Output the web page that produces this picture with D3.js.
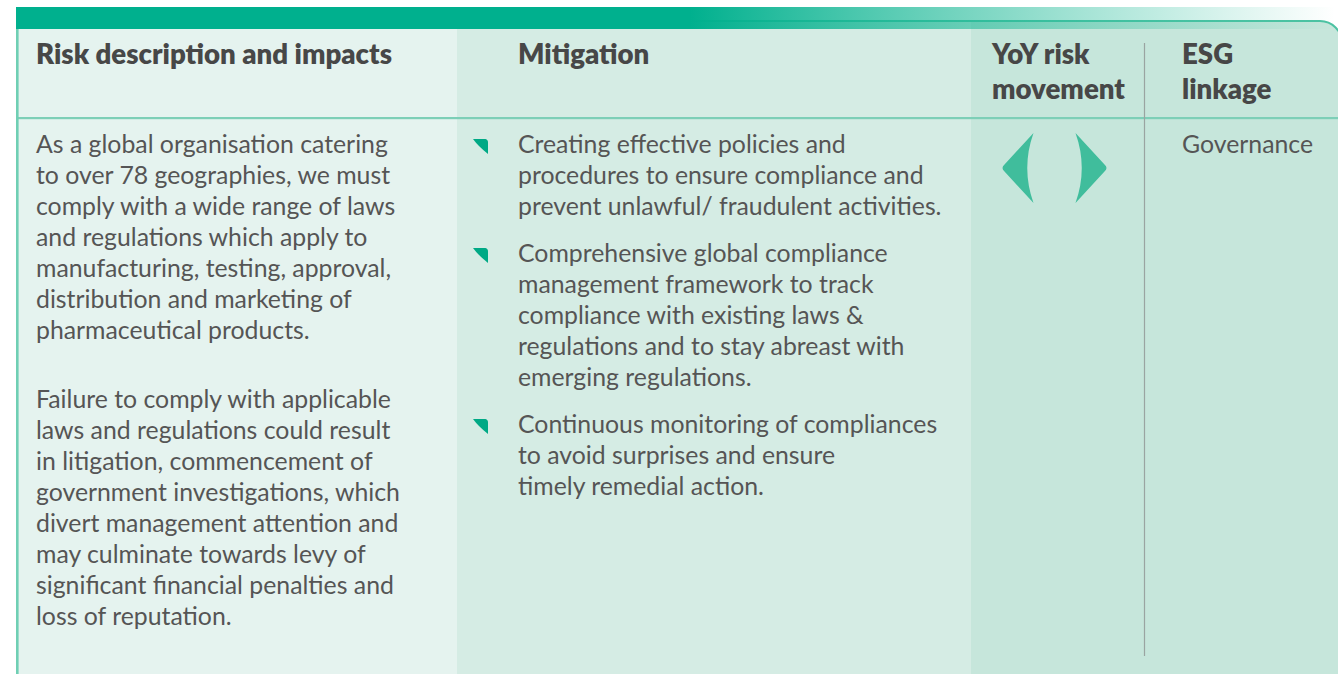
<!DOCTYPE html>
<html>
<head>
<meta charset="utf-8">
<script src="https://cdn.jsdelivr.net/npm/d3@7"></script>
<style>
  html, body { margin: 0; padding: 0; background: #ffffff; }
  svg { display: block; }
</style>
</head>
<body>
<svg id="chart" width="1338" height="674"></svg>
<script>
// ---------------- data ----------------
const columnHeaders = [
  ["Risk description and impacts"],
  ["Mitigation"],
  ["YoY risk", "movement"],
  ["ESG", "linkage"]
];
const descriptionParagraphs = [
  ["As a global organisation catering",
   "to over 78 geographies, we must",
   "comply with a wide range of laws",
   "and regulations which apply to",
   "manufacturing, testing, approval,",
   "distribution and marketing of",
   "pharmaceutical products."],
  ["Failure to comply with applicable",
   "laws and regulations could result",
   "in litigation, commencement of",
   "government investigations, which",
   "divert management attention and",
   "may culminate towards levy of",
   "significant financial penalties and",
   "loss of reputation."]
];
const mitigationBullets = [
  ["Creating effective policies and",
   "procedures to ensure compliance and",
   "prevent unlawful/ fraudulent activities."],
  ["Comprehensive global compliance",
   "management framework to track",
   "compliance with existing laws &",
   "regulations and to stay abreast with",
   "emerging regulations."],
  ["Continuous monitoring of compliances",
   "to avoid surprises and ensure",
   "timely remedial action."]
];
const riskMovement = ["stable"];
const esgLinkage = ["Governance"];

// ---------------- layout ----------------
const W = 1338, H = 674;
const svg = d3.select("#chart");
const colEdges = [17, 457, 971, 1145, 1342];
const colFill = ["#e5f3ef", "#d5ece4", "#c6e6db", "#c6e6db"];
const textX = [36, 518, 992, 1182];
const headFont = "Lato, 'Open Sans', sans-serif";
const bodyFont = "Lato, 'Open Sans', sans-serif";
const headColor = "#474747";
const bodyColor = "#555555";

const meas = svg.append("text").attr("x", -9999).attr("y", -9999);
function fit(str, family, weight, target) {
  meas.attr("font-family", family).attr("font-weight", weight).attr("font-size", 100).text(str);
  const w = meas.node().getComputedTextLength();
  return 100 * target / w;
}
const headSize = fit("Risk description and impacts", headFont, 800, 356);
const bodySize = (fit("As a global organisation catering", bodyFont, 400, 358) +
                  fit("procedures to ensure compliance and", bodyFont, 400, 399)) / 2;
meas.remove();

const defs = svg.append("defs");
const grad = defs.append("linearGradient").attr("id", "barGrad")
  .attr("gradientUnits", "userSpaceOnUse").attr("x1", 16).attr("x2", 1335).attr("y1", 0).attr("y2", 0);
const gx = x => (x - 16) / (1335 - 16);
grad.append("stop").attr("offset", 0).attr("stop-color", "#00b08e").attr("stop-opacity", 1);
grad.append("stop").attr("offset", gx(690)).attr("stop-color", "#00b08e").attr("stop-opacity", 1);
grad.append("stop").attr("offset", gx(1000)).attr("stop-color", "#20ba98").attr("stop-opacity", 0.55);
grad.append("stop").attr("offset", gx(1160)).attr("stop-color", "#30c09f").attr("stop-opacity", 0.3);
grad.append("stop").attr("offset", 1).attr("stop-color", "#3cc4a2").attr("stop-opacity", 0);

const panelTop = 21, rad = 22, rightEdge = colEdges[4];
const panelPath = d3.path();
panelPath.moveTo(colEdges[0], panelTop);
panelPath.lineTo(rightEdge - rad, panelTop);
panelPath.arcTo(rightEdge, panelTop, rightEdge, panelTop + rad, rad);
panelPath.lineTo(rightEdge, H + 5);
panelPath.lineTo(colEdges[0], H + 5);
panelPath.closePath();
defs.append("clipPath").attr("id", "panelClip").append("path").attr("d", panelPath.toString());

const panel = svg.append("g").attr("clip-path", "url(#panelClip)");
panel.selectAll("rect.col").data(colFill).join("rect")
  .attr("class", "col")
  .attr("x", (d, i) => colEdges[i])
  .attr("y", panelTop)
  .attr("width", (d, i) => colEdges[i + 1] - colEdges[i])
  .attr("height", H - panelTop + 5)
  .attr("fill", d => d);

const borderPath = d3.path();
borderPath.moveTo(colEdges[0], panelTop);
borderPath.lineTo(rightEdge - rad, panelTop);
borderPath.arcTo(rightEdge, panelTop, rightEdge, panelTop + rad, rad);
borderPath.lineTo(rightEdge, H + 5);
svg.append("path").attr("d", borderPath.toString())
  .attr("fill", "none").attr("stroke", "#4cc2a2").attr("stroke-width", 2);

svg.append("rect").attr("x", 16).attr("y", 7).attr("width", 1335 - 16).attr("height", 22)
  .attr("fill", "url(#barGrad)");

svg.append("rect").attr("x", 16).attr("y", 117).attr("width", W).attr("height", 2.2).attr("fill", "#7dcfb7");
svg.append("rect").attr("x", 16).attr("y", 29).attr("width", 2.6).attr("height", H).attr("fill", "#6fcfb4");
svg.append("line").attr("x1", 1144.5).attr("x2", 1144.5).attr("y1", 43).attr("y2", 656)
  .attr("stroke", "#9aa4a1").attr("stroke-width", 1.2);

// ---------------- headers ----------------
const headY = d3.scaleLinear().domain([0, 1]).range([64, 99]);
const hg = svg.append("g");
columnHeaders.forEach((lines, ci) => {
  hg.append("text")
    .attr("font-family", headFont).attr("font-weight", 800).attr("font-size", headSize)
    .attr("fill", headColor)
    .selectAll("tspan").data(lines).join("tspan")
    .attr("x", textX[ci]).attr("y", (d, i) => headY(i)).text(d => d);
});

// ---------------- body: description ----------------
const lineH = 31, firstBase = 153;
const descIdx = [];
{
  let y = firstBase;
  descriptionParagraphs.forEach(p => {
    p.forEach(ln => { descIdx.push({ text: ln, y }); y += lineH; });
    y += 38;
  });
}
svg.append("g").selectAll("text").data(descIdx).join("text")
  .attr("x", textX[0]).attr("y", d => d.y)
  .attr("font-family", bodyFont).attr("font-size", bodySize).attr("fill", bodyColor)
  .text(d => d.text);

// ---------------- body: mitigation bullets ----------------
const mitLines = [], bulletYs = [];
{
  let y = firstBase;
  mitigationBullets.forEach(b => {
    bulletYs.push(y);
    b.forEach(ln => { mitLines.push({ text: ln, y }); y += lineH; });
    y += 16;
  });
}
svg.append("g").selectAll("text").data(mitLines).join("text")
  .attr("x", textX[1]).attr("y", d => d.y)
  .attr("font-family", bodyFont).attr("font-size", bodySize).attr("fill", bodyColor)
  .text(d => d.text);

function bulletPath(x, base) {
  const p = d3.path();
  const t = base - 14, b = base + 1;
  p.moveTo(x, t);
  p.lineTo(x + 12.5, t);
  p.quadraticCurveTo(x + 15, t + 0.5, x + 15, t + 3.5);
  p.lineTo(x + 15, b);
  p.quadraticCurveTo(x + 5, t + 7, x, t);
  p.closePath();
  return p.toString();
}
svg.append("g").selectAll("path").data(bulletYs).join("path")
  .attr("d", d => bulletPath(473, d))
  .attr("fill", "#00a985");

// ---------------- YoY risk movement icon ----------------
function chevron(cx, cy, dir) {
  const p = d3.path();
  const inner = 21, outer = 54, half = 35;
  const X = v => cx + dir * v;
  p.moveTo(X(inner), cy - half);
  p.lineTo(X(outer - 4), cy - 3.5);
  p.quadraticCurveTo(X(outer), cy, X(outer - 4), cy + 3.5);
  p.lineTo(X(inner), cy + half);
  p.quadraticCurveTo(X(inner + 12.5), cy, X(inner), cy - half);
  p.closePath();
  return p.toString();
}
svg.append("g").selectAll("path").data(riskMovement.flatMap(() => [-1, 1])).join("path")
  .attr("d", d => chevron(1054.5, 168, d))
  .attr("fill", "#40bd9c");

// ---------------- ESG linkage ----------------
svg.append("g").selectAll("text").data(esgLinkage).join("text")
  .attr("x", textX[3]).attr("y", (d, i) => firstBase + i * lineH)
  .attr("font-family", bodyFont).attr("font-size", bodySize).attr("fill", bodyColor)
  .text(d => d);
</script>
</body>
</html>
